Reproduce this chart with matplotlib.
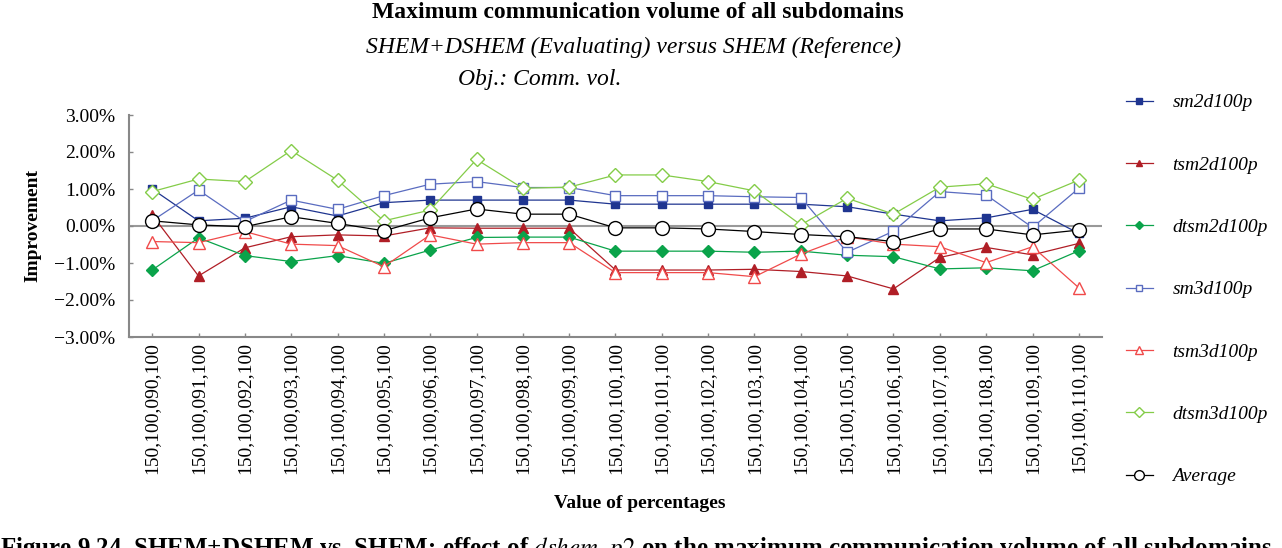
import matplotlib
matplotlib.use("Agg")
import matplotlib.pyplot as plt
import numpy as np

plt.rcParams["font.family"] = ["Liberation Serif", "DejaVu Serif"]
plt.rcParams["mathtext.fontset"] = "stix"

categories = ["150,100,%03d,100" % p for p in range(90, 111)]

sm2d100p = [1.00, 0.14, 0.21, 0.52, 0.27, 0.63, 0.70, 0.70, 0.70, 0.70, 0.59,
            0.59, 0.59, 0.59, 0.59, 0.52, 0.32, 0.14, 0.22, 0.45, -0.20]
tsm2d100p = [0.30, -1.35, -0.59, -0.29, -0.24, -0.27, -0.05, -0.06, -0.06, -0.06, -1.19,
             -1.19, -1.19, -1.17, -1.23, -1.35, -1.70, -0.85, -0.58, -0.78, -0.47]
dtsm2d100p = [-1.19, -0.32, -0.80, -0.96, -0.80, -1.01, -0.65, -0.31, -0.30, -0.30, -0.68,
              -0.68, -0.68, -0.71, -0.68, -0.79, -0.83, -1.16, -1.13, -1.21, -0.67]
sm3d100p = [0.14, 0.97, 0.12, 0.70, 0.45, 0.82, 1.13, 1.20, 1.04, 1.04, 0.82,
            0.82, 0.82, 0.79, 0.77, -0.71, -0.14, 0.93, 0.84, -0.04, 1.02]
tsm3d100p = [-0.42, -0.45, -0.15, -0.49, -0.53, -1.10, -0.24, -0.49, -0.45, -0.45, -1.26,
             -1.26, -1.26, -1.37, -0.76, -0.29, -0.49, -0.56, -0.99, -0.56, -1.67]
dtsm3d100p = [0.93, 1.27, 1.20, 2.04, 1.24, 0.14, 0.43, 1.80, 1.02, 1.05, 1.38,
              1.38, 1.20, 0.95, 0.03, 0.75, 0.32, 1.05, 1.14, 0.72, 1.24]
average = [0.14, 0.03, -0.02, 0.25, 0.07, -0.13, 0.22, 0.46, 0.32, 0.32, -0.05,
           -0.05, -0.08, -0.15, -0.23, -0.29, -0.42, -0.08, -0.08, -0.24, -0.11]

yticks = [-3, -2, -1, 0, 1, 2, 3]
ytick_labels = ["\u22123.00%", "\u22122.00%", "\u22121.00%", "0.00%", "1.00%", "2.00%", "3.00%"]

series = [
    ("sm2d100p", sm2d100p, "#1f3590", "s", True, 6),
    ("tsm2d100p", tsm2d100p, "#b01e26", "^", True, 7),
    ("dtsm2d100p", dtsm2d100p, "#0aa34a", "D", True, 6),
    ("sm3d100p", sm3d100p, "#5a6cc0", "s", False, 7),
    ("tsm3d100p", tsm3d100p, "#f04a4a", "^", False, 8),
    ("dtsm3d100p", dtsm3d100p, "#84cc48", "D", False, 7),
    ("Average", average, "black", "o", False, 10),
]

fig = plt.figure(figsize=(12.82, 5.48), dpi=100)
ax = fig.add_axes([129 / 1282, 1 - 337 / 548, (1102 - 129) / 1282, (337 - 115) / 548])

x = np.arange(len(categories))
ax.axhline(0, color="#999999", lw=1.5, zorder=1)
for name, vals, col, mk, filled, ms in series:
    ax.plot(x, vals, color=col, marker=mk, markersize=ms, lw=0.9,
            markerfacecolor=col if filled else "white", markeredgecolor=col,
            markeredgewidth=1.0, label=name, zorder=3)

ax.set_xlim(-0.5, 20.5)
ax.set_ylim(-3, 3)
ax.set_yticks(yticks)
ax.set_yticklabels(ytick_labels, fontsize=14)
ax.set_xticks(x)
ax.set_xticklabels(categories, rotation=90, fontsize=14)
ax.tick_params(direction="in", color="#888888", length=3, width=1)
ax.tick_params(axis="y", pad=10)
for s in ["top", "right"]:
    ax.spines[s].set_visible(False)
for s in ["left", "bottom"]:
    ax.spines[s].set_color("#888888")
    ax.spines[s].set_linewidth(1.5)

ax.set_ylabel("Improvement", fontsize=14, fontweight="bold", labelpad=9)
fig.text(640 / 1282, 1 - 503 / 548, "Value of percentages", fontsize=14,
         fontweight="bold", ha="center", va="center")

fig.text(638 / 1282, 1 - 12 / 548, "Maximum communication volume of all subdomains",
         fontsize=17, fontweight="bold", ha="center", va="center")
fig.text(634 / 1282, 1 - 47 / 548, "SHEM+DSHEM (Evaluating) versus SHEM (Reference)",
         fontsize=17, style="italic", ha="center", va="center")
fig.text(540 / 1282, 1 - 80 / 548, "Obj.: Comm. vol.",
         fontsize=17, style="italic", ha="center", va="center")

fig.text(0.0, 1 - 535 / 548,
         "Figure 9.24. SHEM+DSHEM vs. SHEM: effect of $\\it{dshem\\_p2}$ on the maximum communication volume of all subdomains",
         fontsize=18, fontweight="bold", ha="left", va="top")

leg = fig.legend(loc="upper left", bbox_to_anchor=(1118 / 1282, 1 - 86 / 548),
                 frameon=False, labelspacing=2.3, handlelength=1.4,
                 handletextpad=1.0, markerscale=0.7, borderaxespad=0,
                 prop={"style": "italic", "size": 14})

fig.savefig("out.png", dpi=100)
